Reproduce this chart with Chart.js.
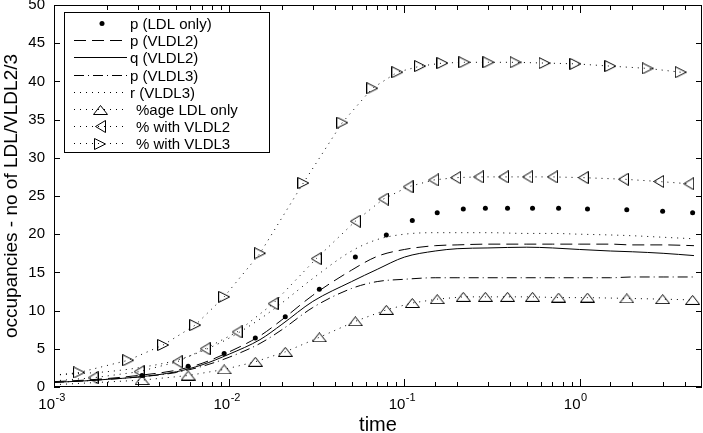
<html>
<head>
<title>occupancies vs time</title>
<style>
  body { margin: 0; padding: 0; background: #fff; }
</style>
</head>
<body>
<canvas id="chart" width="703" height="433"></canvas>
<script src="https://cdn.jsdelivr.net/npm/chart.js@4/dist/chart.umd.min.js"></script>
<script>
// model curves, all on one time grid
const tLine = [0.001, 0.0015, 0.002, 0.003, 0.005, 0.007, 0.01, 0.015, 0.02, 0.03, 0.05, 0.07, 0.1, 0.15, 0.2, 0.3, 0.5, 0.7, 1, 1.5, 2, 3, 4.5];
const pVLDL2 = [0.7, 0.9, 1.1, 1.5, 2.2, 3.1, 4.6, 6.7, 8.8, 12.0, 15.3, 17.1, 18.0, 18.5, 18.6, 18.7, 18.7, 18.7, 18.7, 18.7, 18.6, 18.6, 18.5];
const qVLDL2 = [0.6, 0.8, 1.0, 1.3, 2.0, 2.9, 4.3, 6.2, 8.2, 11.2, 13.8, 15.4, 17.0, 17.8, 18.1, 18.2, 18.3, 18.2, 18.0, 17.8, 17.7, 17.5, 17.2];
const pVLDL3 = [0.6, 0.8, 1.0, 1.3, 1.9, 2.7, 3.9, 5.7, 7.5, 10.4, 12.9, 13.8, 14.1, 14.3, 14.3, 14.3, 14.3, 14.3, 14.3, 14.3, 14.4, 14.4, 14.4];
const rVLDL3 = [1.6, 1.8, 2.0, 2.5, 3.5, 4.7, 6.4, 8.9, 11.0, 14.2, 17.8, 19.3, 20.0, 20.2, 20.2, 20.2, 20.1, 20.1, 20.0, 19.9, 19.8, 19.6, 19.4];

// marker series (own solver steps each)
const tLDL = [0.001, 0.00318, 0.00583, 0.00936, 0.0141, 0.0209, 0.0327, 0.0525, 0.0789, 0.111, 0.154, 0.217, 0.290, 0.388, 0.539, 0.759, 1.11, 1.86, 2.98, 4.42];
const pLDL = [null, 1.5, 2.7, 4.4, 6.4, 9.2, 12.8, 17.0, 19.9, 21.8, 22.8, 23.3, 23.4, 23.4, 23.4, 23.4, 23.3, 23.2, 23.0, 22.8];
const pctLDL = [0.3, 0.9, 1.5, 2.3, 3.3, 4.6, 6.5, 8.6, 10.1, 11.0, 11.5, 11.8, 11.8, 11.8, 11.8, 11.7, 11.7, 11.6, 11.5, 11.4];

const tV2 = [0.001, 0.00167, 0.00306, 0.00505, 0.00729, 0.0111, 0.0178, 0.0314, 0.0525, 0.0759, 0.105, 0.147, 0.196, 0.265, 0.368, 0.505, 0.701, 1.05, 1.78, 2.83, 4.20];
const pctV2 = [0.8, 1.2, 2.0, 3.3, 5.0, 7.2, 10.9, 16.8, 21.7, 24.6, 26.2, 27.1, 27.4, 27.5, 27.5, 27.5, 27.5, 27.4, 27.2, 26.9, 26.6];

const tV3 = [0.001, 0.00139, 0.00265, 0.0042, 0.0064, 0.00936, 0.0150, 0.0265, 0.0442, 0.0656, 0.0912, 0.123, 0.165, 0.220, 0.302, 0.431, 0.631, 0.948, 1.50, 2.45, 3.78];
const pctV3 = [1.5, 1.9, 3.5, 5.5, 8.1, 11.8, 17.5, 26.7, 34.6, 39.1, 41.2, 42.0, 42.4, 42.5, 42.5, 42.5, 42.4, 42.3, 42.0, 41.7, 41.2];

const yTicks = [0, 5, 10, 15, 20, 25, 30, 35, 40, 45, 50];
const xExponents = { "-3": "-3", "-2": "-2", "-1": "-1", "0": "0" };

const FONT = '"Liberation Sans", Arial, sans-serif';
const DOTS = [1, 5];
const xy = (ts, ys) => ts.map((t, i) => ({ x: t, y: ys[i] }));

// hollow triangle markers like matlab's ^ < >
function tri(w, h, dir) {
  const c = document.createElement("canvas");
  c.width = w; c.height = h;
  const g = c.getContext("2d");
  g.strokeStyle = "#000"; g.lineWidth = 1;
  g.beginPath();
  if (dir === "up") { g.moveTo(w / 2, 0.5); g.lineTo(w - 0.5, h - 0.5); g.lineTo(0.5, h - 0.5); }
  if (dir === "left") { g.moveTo(0.5, h / 2); g.lineTo(w - 0.5, 0.5); g.lineTo(w - 0.5, h - 0.5); }
  if (dir === "right") { g.moveTo(w - 0.5, h / 2); g.lineTo(0.5, 0.5); g.lineTo(0.5, h - 0.5); }
  g.closePath(); g.stroke();
  return c;
}
const triUp = tri(15, 10, "up"), triLeft = tri(11, 13, "left"), triRight = tri(12, 12, "right");

const isDecade = v => Math.abs(Math.log10(v) - Math.round(Math.log10(v))) < 1e-9;

// inward ticks on all four sides, box, and 10^n labels
const inwardTicks = {
  id: "inwardTicks",
  afterDraw(chart) {
    const { ctx, chartArea: a, scales: { x, y } } = chart;
    ctx.save();
    ctx.strokeStyle = "#000"; ctx.lineWidth = 1;
    ctx.strokeRect(a.left + 0.5, a.top + 0.5, a.right - a.left - 1, a.bottom - a.top - 1);
    ctx.beginPath();
    x.ticks.forEach(t => {
      if (t.value >= x.max) return;
      const px = Math.round(x.getPixelForValue(t.value)) + 0.5;
      const len = isDecade(t.value) ? 8 : 5;
      ctx.moveTo(px, a.bottom); ctx.lineTo(px, a.bottom - len);
      ctx.moveTo(px, a.top); ctx.lineTo(px, a.top + len);
    });
    y.ticks.forEach(t => {
      const py = Math.round(y.getPixelForValue(t.value)) + 0.5;
      ctx.moveTo(a.left, py); ctx.lineTo(a.left + 6, py);
      ctx.moveTo(a.right, py); ctx.lineTo(a.right - 6, py);
    });
    ctx.stroke();

    ctx.fillStyle = "#000";
    ctx.textBaseline = "alphabetic";
    x.ticks.forEach(t => {
      if (!isDecade(t.value)) return;
      const px = x.getPixelForValue(t.value);
      const e = xExponents[String(Math.round(Math.log10(t.value)))];
      ctx.font = "15px " + FONT; ctx.textAlign = "right";
      ctx.fillText("10", px + 1, a.bottom + 22);
      ctx.font = "11px " + FONT; ctx.textAlign = "left";
      ctx.fillText(e, px + 1.5, a.bottom + 14);
    });
    ctx.restore();
  }
};

const boxLegend = {
  id: "boxLegend",
  afterDraw(chart) {
    const ctx = chart.ctx;
    const L = 64, T = 12, W = 205, H = 140;
    ctx.save();
    ctx.fillStyle = "#fff"; ctx.fillRect(L, T, W, H);
    ctx.strokeStyle = "#000"; ctx.lineWidth = 1;
    ctx.strokeRect(L + 0.5, T + 0.5, W, H);
    ctx.font = "15px " + FONT;
    ctx.textBaseline = "middle";
    chart.data.datasets.forEach((ds, i) => {
      const cy = Math.round(T + 11 + i * 17.2) + 0.5;
      ctx.fillStyle = "#000";
      if (ds.showLine) {
        ctx.setLineDash(ds.borderDash || []);
        ctx.beginPath(); ctx.moveTo(74, cy); ctx.lineTo(127, cy); ctx.stroke();
        ctx.setLineDash([]);
      }
      const st = ds.pointStyle;
      if (st instanceof HTMLCanvasElement) {
        ctx.drawImage(st, Math.round(100 - st.width / 2), Math.round(cy - st.height / 2));
      } else if (!ds.showLine) {
        ctx.beginPath(); ctx.arc(102, cy, 2.5, 0, 2 * Math.PI); ctx.fill();
      }
      ctx.fillText(ds.label, i < 5 ? 130 : 136, cy + 1);
    });
    ctx.restore();
  }
};

const lineSet = (label, ys, dash) => ({
  label, data: xy(tLine, ys), showLine: true, borderColor: "#000", borderWidth: 1,
  borderDash: dash, pointRadius: 0, cubicInterpolationMode: "monotone"
});
const markSet = (label, ts, ys, img) => ({
  label, data: xy(ts, ys), showLine: true, borderColor: "#000", borderWidth: 1,
  borderDash: DOTS, pointStyle: img, pointRadius: c => (c.dataIndex === 0 ? 0 : 6)
});

new Chart(document.getElementById("chart"), {
  type: "scatter",
  data: {
    datasets: [
      { label: "p (LDL only)", data: xy(tLDL, pLDL), showLine: false, pointStyle: "circle",
        pointRadius: 2.5, backgroundColor: "#000", borderColor: "#000", borderWidth: 0 },
      lineSet("p (VLDL2)", pVLDL2, [12, 6]),
      lineSet("q (VLDL2)", qVLDL2, []),
      lineSet("p (VLDL3)", pVLDL3, [10, 4, 1, 4]),
      lineSet("r (VLDL3)", rVLDL3, DOTS),
      markSet("%age LDL only", tLDL, pctLDL, triUp),
      markSet("% with VLDL2", tV2, pctV2, triLeft),
      markSet("% with VLDL3", tV3, pctV3, triRight)
    ]
  },
  options: {
    responsive: false,
    animation: false,
    layout: { autoPadding: false, padding: { left: 0, right: 1, top: 5, bottom: 0 } },
    plugins: { legend: { display: false }, tooltip: { enabled: false } },
    scales: {
      x: {
        type: "logarithmic", min: 0.001, max: 5,
        grid: { display: false, drawTicks: false },
        border: { display: false },
        afterFit: s => { s.height = 46; s.paddingLeft = 0; s.paddingRight = 0; },
        ticks: { autoSkip: false, maxRotation: 0, padding: 8, callback: () => "" },
        title: { display: true, text: "time", color: "#000", font: { family: FONT, size: 20 },
          padding: { top: 0, bottom: -4 } }
      },
      y: {
        min: 0, max: 50,
        afterBuildTicks: s => { s.ticks = yTicks.map(v => ({ value: v })); },
        afterFit: s => { s.width = 54; s.paddingTop = 0; s.paddingBottom = 0; },
        grid: { display: false, drawTicks: false },
        border: { display: false },
        ticks: { padding: 9, color: "#000", font: { family: FONT, size: 15 } },
        title: { display: true, text: "occupancies - no of LDL/VLDL2/3", color: "#000",
          font: { family: FONT, size: 19 }, padding: 0 }
      }
    }
  },
  plugins: [inwardTicks, boxLegend]
});
</script>
</body>
</html>
